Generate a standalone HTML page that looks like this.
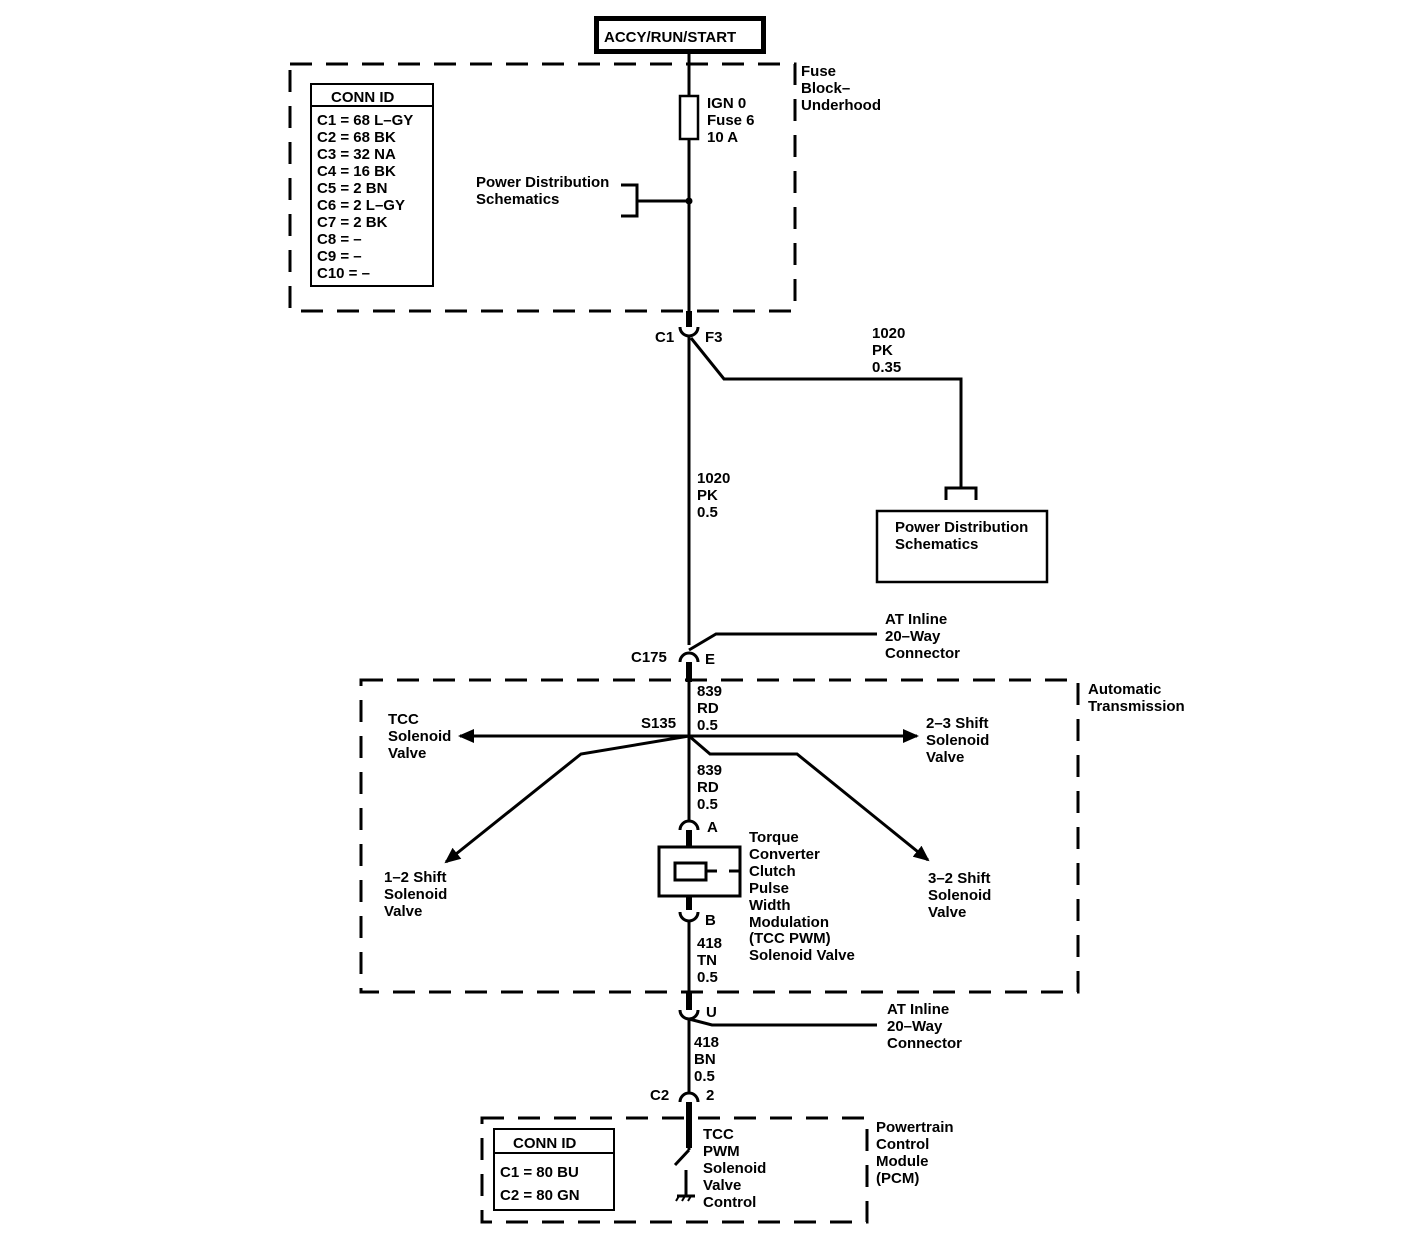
<!DOCTYPE html>
<html><head><style>
html,body{margin:0;padding:0;background:#fff;}
svg{display:block;}
text{font-family:"Liberation Sans",Arial,sans-serif;font-size:15px;font-weight:bold;fill:#000;}
</style></head><body>
<svg width="1408" height="1240" viewBox="0 0 1408 1240" xmlns="http://www.w3.org/2000/svg">
<defs>
<marker id="ar" markerWidth="16" markerHeight="14" refX="14" refY="7" orient="auto" markerUnits="userSpaceOnUse" viewBox="0 0 16 14">
<path d="M0,0 L16,7 L0,14 Z" fill="#000"/></marker>
</defs>
<g stroke="#000" fill="none">
<rect x="596.5" y="18.5" width="167" height="33" stroke-width="5"/>
<g stroke-width="3" stroke-dasharray="22,14">
<rect x="290" y="64" width="505" height="247"/>
<rect x="361" y="680" width="717" height="312"/>
<rect x="482" y="1118" width="385" height="104"/>
</g>
<rect x="311" y="84" width="122" height="202" stroke-width="2"/>
<line x1="311" y1="106" x2="433" y2="106" stroke-width="2"/>
<rect x="494" y="1129" width="120" height="81" stroke-width="2"/>
<line x1="494" y1="1153" x2="614" y2="1153" stroke-width="2"/>
<line x1="689" y1="54" x2="689" y2="311" stroke-width="3"/>
<rect x="680" y="96" width="18" height="43" stroke-width="2.5" fill="#fff"/>
<line x1="637" y1="201" x2="689" y2="201" stroke-width="3"/>
<path d="M621,185 H637 V216 H621" stroke-width="3"/>
<circle cx="689" cy="201" r="3.5" fill="#000" stroke="none"/>
<line x1="689" y1="311" x2="689" y2="327" stroke-width="6"/>
<path d="M680,327 A9,9 0 0 0 698,327" stroke-width="3"/>
<line x1="689" y1="336" x2="689" y2="645" stroke-width="3"/>
<path d="M691,338 L724,379 H961 V488" stroke-width="3"/>
<path d="M946,500 V488 H976 V500" stroke-width="3"/>
<rect x="877" y="511" width="170" height="71" stroke-width="2.5"/>
<path d="M680,662 A9,9 0 0 1 698,662" stroke-width="3"/>
<path d="M689,650 L716,634 H877" stroke-width="3"/>
<line x1="689" y1="662" x2="689" y2="682" stroke-width="6"/>
<line x1="689" y1="680" x2="689" y2="820" stroke-width="3"/>
<line x1="689" y1="736" x2="460" y2="736" stroke-width="3" marker-end="url(#ar)"/>
<line x1="689" y1="736" x2="917" y2="736" stroke-width="3" marker-end="url(#ar)"/>
<path d="M689,736 L581,754 L446,862" stroke-width="3" marker-end="url(#ar)"/>
<path d="M689,736 L710,754 L797,754 L928,860" stroke-width="3" marker-end="url(#ar)"/>
<path d="M680,830 A9,9 0 0 1 698,830" stroke-width="3"/>
<line x1="689" y1="830" x2="689" y2="910" stroke-width="6"/>
<rect x="659" y="847" width="81" height="49" stroke-width="3" fill="#fff"/>
<rect x="675" y="863" width="31" height="17" stroke-width="3" fill="#fff"/>
<line x1="706" y1="871" x2="717" y2="871" stroke-width="3"/>
<line x1="729" y1="871" x2="740" y2="871" stroke-width="3"/>
<path d="M680,912 A9,9 0 0 0 698,912" stroke-width="3"/>
<line x1="689" y1="921" x2="689" y2="992" stroke-width="3"/>
<line x1="689" y1="992" x2="689" y2="1010" stroke-width="6"/>
<path d="M680,1010 A9,9 0 0 0 698,1010" stroke-width="3"/>
<path d="M689,1019 L712,1025 H877" stroke-width="3"/>
<line x1="689" y1="1019" x2="689" y2="1094" stroke-width="3"/>
<path d="M680,1102 A9,9 0 0 1 698,1102" stroke-width="3"/>
<line x1="689" y1="1102" x2="689" y2="1148" stroke-width="6"/>
<line x1="689" y1="1145" x2="689" y2="1150" stroke-width="3"/>
<line x1="689" y1="1150" x2="675" y2="1165" stroke-width="3"/>
<line x1="686" y1="1170" x2="686" y2="1196" stroke-width="3"/>
<line x1="677" y1="1196" x2="695" y2="1196" stroke-width="3"/>
<line x1="679" y1="1196" x2="676" y2="1201" stroke-width="2"/>
<line x1="685" y1="1196" x2="682" y2="1201" stroke-width="2"/>
<line x1="691" y1="1196" x2="688" y2="1201" stroke-width="2"/>
</g>
<g>
<text x="604" y="42" font-size="16">ACCY/RUN/START</text>
<text x="801" y="76">Fuse</text><text x="801" y="93">Block–</text><text x="801" y="110">Underhood</text>
<text x="707" y="108">IGN 0</text><text x="707" y="125">Fuse 6</text><text x="707" y="142">10 A</text>
<text x="476" y="187">Power Distribution</text><text x="476" y="204">Schematics</text>
<text x="331" y="102" font-size="16">CONN ID</text>
<text x="317" y="125">C1 = 68 L–GY</text>
<text x="317" y="142">C2 = 68 BK</text>
<text x="317" y="159">C3 = 32 NA</text>
<text x="317" y="176">C4 = 16 BK</text>
<text x="317" y="193">C5 = 2 BN</text>
<text x="317" y="210">C6 = 2 L–GY</text>
<text x="317" y="227">C7 = 2 BK</text>
<text x="317" y="244">C8 = –</text>
<text x="317" y="261">C9 = –</text>
<text x="317" y="278">C10 = –</text>
<text x="655" y="342">C1</text><text x="705" y="342">F3</text>
<text x="872" y="338">1020</text><text x="872" y="355">PK</text><text x="872" y="372">0.35</text>
<text x="697" y="483">1020</text><text x="697" y="500">PK</text><text x="697" y="517">0.5</text>
<text x="895" y="532">Power Distribution</text><text x="895" y="549">Schematics</text>
<text x="885" y="624">AT Inline</text><text x="885" y="641">20–Way</text><text x="885" y="658">Connector</text>
<text x="631" y="662">C175</text><text x="705" y="664">E</text>
<text x="1088" y="694">Automatic</text><text x="1088" y="711">Transmission</text>
<text x="697" y="696">839</text><text x="697" y="713">RD</text><text x="697" y="730">0.5</text>
<text x="641" y="728">S135</text>
<text x="388" y="724">TCC</text><text x="388" y="741">Solenoid</text><text x="388" y="758">Valve</text>
<text x="926" y="728">2–3 Shift</text><text x="926" y="745">Solenoid</text><text x="926" y="762">Valve</text>
<text x="697" y="775">839</text><text x="697" y="792">RD</text><text x="697" y="809">0.5</text>
<text x="707" y="832">A</text>
<text x="749" y="842">Torque</text><text x="749" y="859">Converter</text><text x="749" y="876">Clutch</text>
<text x="749" y="893">Pulse</text><text x="749" y="910">Width</text><text x="749" y="927">Modulation</text>
<text x="749" y="943">(TCC PWM)</text><text x="749" y="960">Solenoid Valve</text>
<text x="384" y="882">1–2 Shift</text><text x="384" y="899">Solenoid</text><text x="384" y="916">Valve</text>
<text x="928" y="883">3–2 Shift</text><text x="928" y="900">Solenoid</text><text x="928" y="917">Valve</text>
<text x="705" y="925">B</text>
<text x="697" y="948">418</text><text x="697" y="965">TN</text><text x="697" y="982">0.5</text>
<text x="706" y="1017">U</text>
<text x="887" y="1014">AT Inline</text><text x="887" y="1031">20–Way</text><text x="887" y="1048">Connector</text>
<text x="694" y="1047">418</text><text x="694" y="1064">BN</text><text x="694" y="1081">0.5</text>
<text x="650" y="1100">C2</text><text x="706" y="1100">2</text>
<text x="876" y="1132">Powertrain</text><text x="876" y="1149">Control</text><text x="876" y="1166">Module</text><text x="876" y="1183">(PCM)</text>
<text x="513" y="1148" font-size="16">CONN ID</text>
<text x="500" y="1177" font-size="16">C1  = 80 BU</text>
<text x="500" y="1200" font-size="16">C2  = 80 GN</text>
<text x="703" y="1139">TCC</text><text x="703" y="1156">PWM</text><text x="703" y="1173">Solenoid</text>
<text x="703" y="1190">Valve</text><text x="703" y="1207">Control</text>
</g>
</svg>
</body></html>
